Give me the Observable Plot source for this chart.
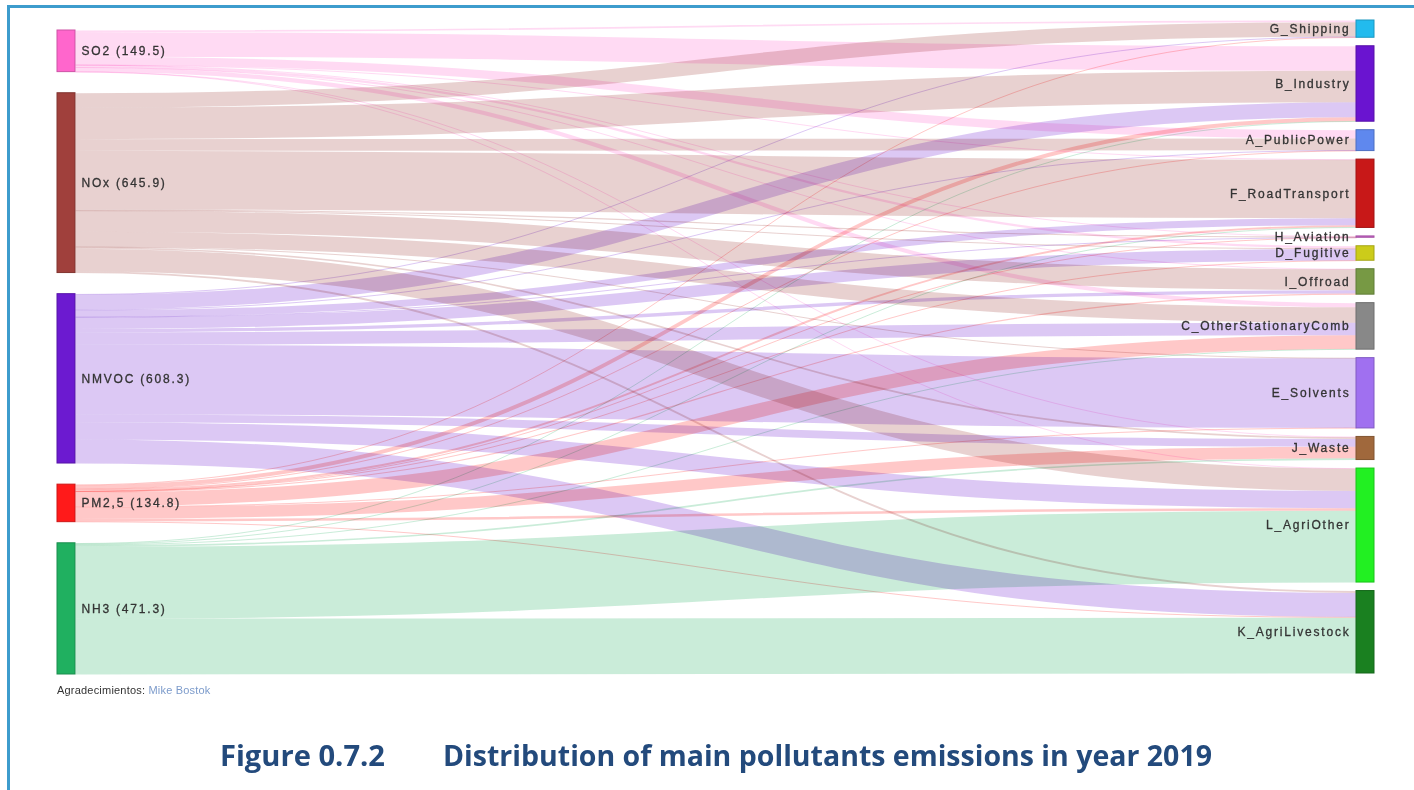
<!DOCTYPE html>
<html><head><meta charset="utf-8">
<script src="https://cdn.jsdelivr.net/npm/d3@7"></script>
<script src="https://cdn.jsdelivr.net/npm/@observablehq/plot@0.6"></script>
<style>
html,body{margin:0;padding:0;background:#fff;width:1414px;height:790px;overflow:hidden;position:relative;}
#frame{position:absolute;left:7px;top:5px;width:1430px;height:820px;border-top:3px solid #3d9ccd;border-left:3px solid #3d9ccd;}
#chart{position:absolute;left:0;top:0;}
#chart svg text{letter-spacing:1.8px;}
#credit{position:absolute;left:57px;top:684px;font:11px "Liberation Sans",Arial,sans-serif;color:#333;letter-spacing:0.2px;}
#credit span{color:#7c9bcb;}
#title{position:absolute;left:0;top:728px;}
</style></head><body>
<div id="frame"></div>
<div id="chart"></div>
<div id="credit">Agradecimientos: <span>Mike Bostok</span></div>
<svg id="title" width="1414" height="60" xmlns="http://www.w3.org/2000/svg">
  <text x="220" y="38" font-family="Open Sans, Lato, sans-serif" font-weight="700" font-size="28" fill="#234a7c" textLength="165" lengthAdjust="spacingAndGlyphs">Figure 0.7.2</text>
  <text x="443" y="38" font-family="Open Sans, Lato, sans-serif" font-weight="700" font-size="28" fill="#234a7c" textLength="769" lengthAdjust="spacingAndGlyphs">Distribution of main pollutants emissions in year 2019</text>
</svg>
<script>
// ---- data (kt, 2019) ----
const pollutants = ["SO2", "NOx", "NMVOC", "PM2,5", "NH3"];
const pollutantTotals = [149.5, 645.9, 608.3, 134.8, 471.3];
const sectors = ["G_Shipping", "B_Industry", "A_PublicPower", "F_RoadTransport", "H_Aviation", "D_Fugitive", "I_Offroad", "C_OtherStationaryComb", "E_Solvents", "J_Waste", "L_AgriOther", "K_AgriLivestock"];
// flows from each pollutant to the sectors, in the sector order above
const flowsSO2   = [6,  88, 30,   0.5, 0.2, 8,   0.3, 15, 0,   1,  0.5, 0];
const flowsNOx   = [52, 113, 42, 210,  4,   1.5, 75,  55, 0.5, 6,  80,  6.9];
const flowsNMVOC = [2,  54, 1.5,  25,  0.5, 42,  12,  45, 250, 28, 62,  86.3];
const flowsPM25  = [2,  14, 1.5,  7,   0.1, 0.5, 4,   50, 2,   42, 9,   2.7];
const flowsNH3   = [0,  2,  0,    3,   0,   0,   0,   2,  0,   6,  258, 200.3];

// ---- styles ----
const pollutantColors = ["#ff66cc", "#a0403c", "#6c1ad0", "#ff1a1a", "#20b060"];
const sectorColors = ["#22bbee", "#6a14d0", "#5f88ee", "#c81818", "#cc66cc", "#cccc1a", "#779944", "#888888", "#a070f0", "#a0683c", "#22f022", "#1a8020"];

const flowMatrix = [flowsSO2, flowsNOx, flowsNMVOC, flowsPM25, flowsNH3];

// ---- layout (value units along y) ----
const W = 1414, H = 700;
const xLeft = 57, xRight = 1374, nodePx = 18;
const yTopPx = 20, yBottomPx = 673;       // right column extent
const leftTopPx = 30, leftBottomPx = 674; // left column extent
const padRightPx = 8.5;
const total = d3.sum(pollutantTotals);
const spanPx = yBottomPx - yTopPx;
const ky = (spanPx - (sectors.length - 1) * padRightPx) / total;
const yMax = spanPx / ky;
const padR = padRightPx / ky;
const leftStart = (leftTopPx - yTopPx) / ky;
const padL = ((leftBottomPx - leftTopPx) / ky - total) / (pollutants.length - 1);
const nodeW = nodePx / (xRight - xLeft);

const sectorTotals = sectors.map((s, j) => d3.sum(flowMatrix, row => row[j]));

const leftNodes = [];
let y = leftStart;
pollutants.forEach((p, i) => {
  leftNodes.push({name: p, label: `${p} (${pollutantTotals[i].toFixed(1)})`, y0: y, y1: y + pollutantTotals[i], x1: 0, x2: nodeW, color: pollutantColors[i]});
  y += pollutantTotals[i] + padL;
});
const rightNodes = [];
y = 0;
sectors.forEach((s, j) => {
  rightNodes.push({name: s, label: s, y0: y, y1: y + sectorTotals[j], x1: 1 - nodeW, x2: 1, color: sectorColors[j]});
  y += sectorTotals[j] + padR;
});

const links = [];
const srcOff = leftNodes.map(n => n.y0);
const tgtOff = rightNodes.map(n => n.y0);
pollutants.forEach((p, i) => {
  sectors.forEach((s, j) => {
    const v = flowMatrix[i][j];
    if (!(v > 0)) return;
    links.push({source: p, target: s, value: v, color: pollutantColors[i],
      x1: nodeW, x2: 1 - nodeW,
      y1: srcOff[i] + v / 2, y2: tgtOff[j] + v / 2});
    srcOff[i] += v;
    tgtOff[j] += v;
  });
});

const nodes = leftNodes.concat(rightNodes);

const chart = Plot.plot({
  width: W,
  height: H,
  x: {domain: [0, 1], range: [xLeft, xRight], axis: null},
  y: {domain: [0, yMax], range: [yTopPx, yBottomPx], axis: null},
  color: {type: "identity"},
  style: {fontFamily: "'Liberation Sans', Arial, sans-serif", fontSize: "12px", background: "transparent"},
  marks: [
    Plot.link(links, {
      x1: "x1", x2: "x2", y1: "y1", y2: "y2",
      stroke: "color",
      strokeWidth: d => Math.max(1, d.value * ky),
      strokeOpacity: 0.24,
      curve: "bump-x",
      mixBlendMode: "multiply"
    }),
    Plot.rect(nodes, {
      x1: "x1", x2: "x2", y1: "y0", y2: "y1",
      fill: "color",
      stroke: d => d3.color(d.color).darker(0.6).formatHex(),
      strokeWidth: 1
    }),
    Plot.text(leftNodes, {
      x: "x2", y: d => (d.y0 + d.y1) / 2, text: "label",
      textAnchor: "start", dx: 6, fill: "#333", stroke: "#333", strokeWidth: 0.3, fontSize: 12
    }),
    Plot.text(rightNodes, {
      x: "x1", y: d => (d.y0 + d.y1) / 2, text: "label",
      textAnchor: "end", dx: -6, fill: "#333", stroke: "#333", strokeWidth: 0.3, fontSize: 12
    })
  ]
});
document.getElementById("chart").appendChild(chart);
</script>
</body></html>
